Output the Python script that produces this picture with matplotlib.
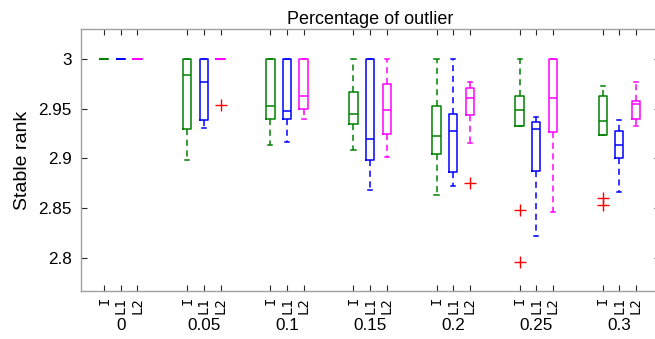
import matplotlib
matplotlib.use("Agg")
import matplotlib.pyplot as plt
import numpy as np

plt.rcParams['font.family'] = ['Liberation Sans', 'DejaVu Sans']

groups = ['0', '0.05', '0.1', '0.15', '0.2', '0.25', '0.3']
methods = ['I', 'L1', 'L2']
colors = ['#008000', '#0000ff', '#ff00ff']

# statistics per method, one entry per outlier percentage
I_whislo = [3.0, 2.8985, 2.9133, 2.9083, 2.8635, 2.9331, 2.9240]
I_q1     = [3.0, 2.9294, 2.9400, 2.9345, 2.9049, 2.9331, 2.9240]
I_med    = [3.0, 2.9840, 2.9530, 2.9449, 2.9224, 2.9489, 2.9375]
I_q3     = [3.0, 3.0000, 3.0000, 2.9667, 2.9526, 2.9627, 2.9627]
I_whishi = [3.0, 3.0000, 3.0000, 3.0000, 3.0000, 3.0000, 2.9728]
I_fliers = [[], [], [], [], [], [2.848, 2.7953], [2.860, 2.8531]]

L1_whislo = [3.0, 2.9307, 2.9163, 2.8682, 2.8726, 2.8216, 2.8665]
L1_q1     = [3.0, 2.9385, 2.9395, 2.8985, 2.8864, 2.8874, 2.9002]
L1_med    = [3.0, 2.9774, 2.9482, 2.9194, 2.9277, 2.9294, 2.9133]
L1_q3     = [3.0, 3.0000, 3.0000, 3.0000, 2.9452, 2.9365, 2.9274]
L1_whishi = [3.0, 3.0000, 3.0000, 3.0000, 3.0000, 2.9418, 2.9388]
L1_fliers = [[], [], [], [], [], [], []]

L2_whislo = [3.0, 3.0, 2.9395, 2.9015, 2.9153, 2.8458, 2.9328]
L2_q1     = [3.0, 3.0, 2.9496, 2.9247, 2.9435, 2.9267, 2.9395]
L2_med    = [3.0, 3.0, 2.9630, 2.9489, 2.9607, 2.9607, 2.9550]
L2_q3     = [3.0, 3.0, 3.0000, 2.9748, 2.9711, 3.0000, 2.9580]
L2_whishi = [3.0, 3.0, 3.0000, 3.0000, 2.9768, 3.0000, 2.9774]
L2_fliers = [[], [2.9536], [], [], [2.875], [], []]

stats_by_method = [
    (I_whislo, I_q1, I_med, I_q3, I_whishi, I_fliers),
    (L1_whislo, L1_q1, L1_med, L1_q3, L1_whishi, L1_fliers),
    (L2_whislo, L2_q1, L2_med, L2_q3, L2_whishi, L2_fliers),
]

fig = plt.figure(figsize=(6.55, 3.39), dpi=100)
ax = fig.add_axes([80.5 / 655, 1 - 290.5 / 339, 579.2 / 655, (290.5 - 29.3) / 339])

all_pos = []
all_lab = []
for m, (wl, q1, med, q3, wh, fl) in enumerate(stats_by_method):
    stats = []
    pos = []
    for g in range(len(groups)):
        stats.append(dict(whislo=wl[g], q1=q1[g], med=med[g], q3=q3[g],
                          whishi=wh[g], fliers=fl[g]))
        pos.append(1 + 5 * g + m)
    c = colors[m]
    ax.bxp(stats, positions=pos, widths=0.5, capwidths=0.25, showfliers=True,
           boxprops=dict(color=c, linewidth=1.1),
           medianprops=dict(color=c, linewidth=1.1),
           whiskerprops=dict(color=c, linewidth=1.1, linestyle=(0, (4, 3))),
           capprops=dict(color=c, linewidth=1.1),
           flierprops=dict(marker='+', markeredgecolor='red', markersize=8,
                           markeredgewidth=1.0, linestyle='none'))
    all_pos += pos
    all_lab += [methods[m]] * len(groups)

ax.xaxis.remove_overlapping_locs = False
order = np.argsort(all_pos)
ax.set_xticks([all_pos[i] for i in order])
ax.set_xticklabels([all_lab[i] for i in order], rotation=90, fontsize=10,
                   family=['DejaVu Sans Mono'], va='top')
ax.set_xticks([2 + 5 * g for g in range(len(groups))], minor=True)
ax.set_xticklabels(groups, minor=True, fontsize=12.3)
ax.tick_params(axis='x', which='minor', length=0, pad=19.5, top=False)

ax.set_xlim(-0.43, 34.43)
ax.set_ylim(2.7669, 3.0302)
ax.set_yticks([2.8, 2.85, 2.9, 2.95, 3.0])
ax.set_yticklabels(['2.8', '2.85', '2.9', '2.95', '3'], fontsize=12.3)

ax.tick_params(which='major', direction='in', top=True, right=True,
               length=4, width=0.8, color='#262626')
ax.tick_params(axis='x', which='major', pad=4.5)
ax.tick_params(axis='y', pad=6.3)
for s in ax.spines.values():
    s.set_color('#a0a0a0')
    s.set_linewidth(1.0)

ax.set_ylabel('Stable rank', fontsize=14, labelpad=5)
ax.set_title('Percentage of outlier', fontsize=13, pad=4)

fig.savefig('out.png', dpi=100)
